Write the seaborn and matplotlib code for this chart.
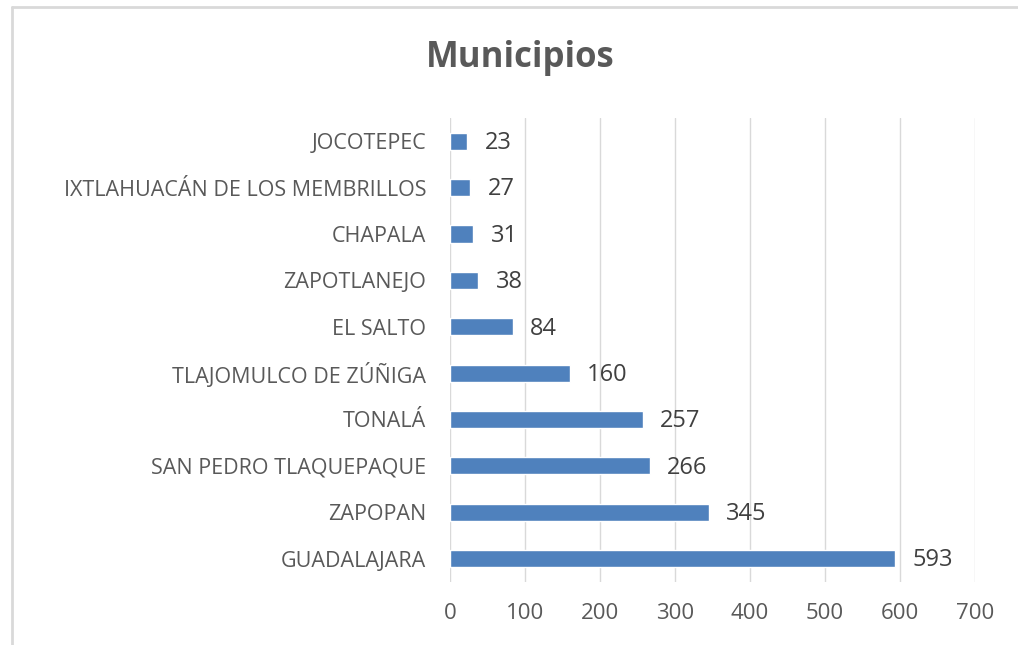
import matplotlib
matplotlib.use("Agg")
import matplotlib.pyplot as plt
import seaborn as sns
import pandas as pd
from matplotlib.lines import Line2D

# Data (top to bottom as shown)
municipios = ["JOCOTEPEC", "IXTLAHUACÁN DE LOS MEMBRILLOS", "CHAPALA", "ZAPOTLANEJO",
              "EL SALTO", "TLAJOMULCO DE ZÚÑIGA", "TONALÁ", "SAN PEDRO TLAQUEPAQUE",
              "ZAPOPAN", "GUADALAJARA"]
valores = [23, 27, 31, 38, 84, 160, 257, 266, 345, 593]
x_ticks = [0, 100, 200, 300, 400, 500, 600, 700]

df = pd.DataFrame({"municipio": municipios, "valor": valores})

sns.set_theme(style="white")
plt.rcParams['font.family'] = ['Open Sans', 'DejaVu Sans']
text_color = "#595959"

fig = plt.figure(figsize=(10.18, 6.45), dpi=100)
ax = fig.add_axes([0.442, 0.098, 0.516, 0.719])

sns.barplot(data=df, x="valor", y="municipio", orient="h", color="#4F81BD",
            width=0.37, saturation=1, ax=ax)

for i, v in enumerate(valores):
    ax.text(v + 23, i + 0.04, str(v), va="center", ha="left", fontsize=17, color="#404040")

ax.set_xlim(0, 700)
ax.set_xticks(x_ticks)
ax.set_xticklabels([str(t) for t in x_ticks], fontsize=16, color=text_color)
ax.tick_params(axis="y", labelsize=15.5, labelcolor=text_color, length=0, pad=17)
ax.tick_params(axis="x", length=0, pad=15)
ax.set_xlabel("")
ax.set_ylabel("")
ax.grid(axis="x", color="#D9D9D9", linewidth=1)
ax.set_axisbelow(True)
for s in ax.spines.values():
    s.set_visible(False)

fig.text(0.511, 0.91, "Municipios", ha="center", va="center", fontsize=25,
         fontweight="bold", color=text_color)

# outer chart border (only top and left edges visible in the crop)
fig.lines.append(Line2D([0.012, 1.0], [0.989, 0.989], transform=fig.transFigure,
                        color="#D9D9D9", linewidth=2))
fig.lines.append(Line2D([0.012, 0.012], [0.0, 0.989], transform=fig.transFigure,
                        color="#D9D9D9", linewidth=2))

fig.savefig("out.png", dpi=100)
